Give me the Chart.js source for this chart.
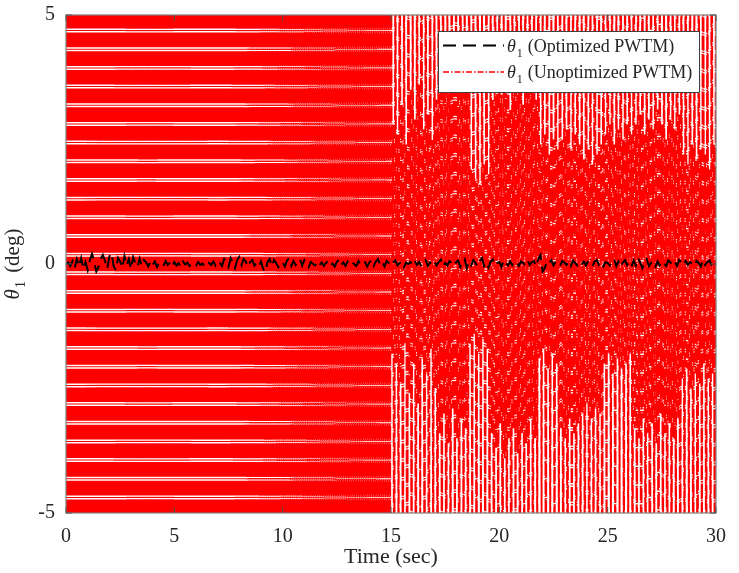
<!DOCTYPE html>
<html><head><meta charset="utf-8">
<script src="https://cdn.jsdelivr.net/npm/chart.js@4"></script>
<style>html,body{margin:0;padding:0;background:#fff}canvas{display:block}</style>
</head><body>
<canvas id="c" width="739" height="573"></canvas>
<script>
// ---- data ----
const optimizedStep = 0.1;     // s between samples of the optimized response
const unoptimizedStep = 0.05;  // s between samples of the unoptimized response
const xTickValues = [0, 5, 10, 15, 20, 25, 30];
const yTickValues = [-5, 0, 5];
const seriesNames = ['(Optimized PWTM)', '(Unoptimized PWTM)'];
const xAxisTitle = 'Time (sec)';
const yAxisUnit = ' (deg)';

// theta_1, optimized PWTM (deg), 0..30 s
const optimizedTheta = [
 0.00,0.03,-0.04,0.06,-0.08,0.10,-0.05,0.12,-0.10,0.04,
 -0.12,0.08,0.20,0.05,-0.15,-0.06,0.10,0.18,0.06,-0.10,
 0.15,0.22,-0.05,-0.12,0.12,0.05,-0.08,0.16,-0.03,0.10,
 -0.10,0.14,0.02,-0.06,0.11,-0.04,0.08,0.03,-0.05,0.06,
 -0.02,0.05,-0.06,0.03,0.00,-0.04,0.06,-0.02,0.03,-0.05,
 0.04,-0.03,0.02,-0.06,0.05,-0.01,0.03,-0.04,0.02,0.00,
 -0.03,0.04,-0.02,0.01,-0.05,0.03,0.02,-0.02,0.05,-0.03,
 0.06,0.02,-0.04,0.10,0.04,-0.06,0.12,0.03,-0.08,0.08,
 0.14,-0.02,0.10,0.05,-0.06,0.04,0.08,-0.03,0.02,-0.05,
 0.05,-0.10,-0.16,0.04,0.10,-0.05,0.08,0.02,-0.06,0.04,
 0.03,-0.05,0.07,0.12,-0.04,0.06,-0.02,0.05,0.10,-0.03,
 0.08,0.02,-0.06,0.04,0.00,-0.03,0.05,-0.02,0.03,-0.04,
 0.02,0.06,-0.03,0.01,-0.05,0.04,0.09,-0.02,0.03,-0.04,
 0.05,-0.02,0.03,0.00,-0.04,0.06,-0.03,0.02,0.04,-0.05,
 0.03,0.08,-0.04,0.05,0.10,-0.02,0.04,-0.05,0.06,0.02,
 -0.04,0.03,0.07,-0.03,0.02,0.05,-0.06,0.03,0.00,0.04,
 -0.03,0.06,-0.02,0.04,-0.05,0.02,0.08,-0.04,0.03,-0.02,
 0.05,-0.03,0.04,0.09,-0.05,0.02,-0.03,0.06,0.01,-0.04,
 0.03,0.07,-0.06,0.04,0.10,-0.08,0.05,-0.03,0.08,0.02,
 -0.05,0.06,0.12,-0.04,0.03,-0.07,0.05,0.09,-0.03,0.02,
 0.04,-0.06,0.08,0.02,-0.03,0.05,-0.02,0.06,0.03,-0.04,
 0.05,0.02,-0.03,0.07,-0.02,0.04,0.06,-0.05,0.10,0.18,
 -0.15,-0.08,0.06,0.02,0.08,-0.03,0.05,0.02,-0.04,0.06,
 0.03,-0.02,0.05,-0.04,0.07,0.02,-0.03,0.04,-0.01,0.05,
 -0.03,0.06,0.02,-0.04,0.05,0.08,-0.02,0.03,-0.05,0.04,
 0.02,-0.03,0.06,0.10,-0.04,0.05,-0.06,0.03,0.08,-0.02,
 0.04,-0.05,0.07,-0.03,0.12,0.03,-0.08,0.06,0.10,-0.04,
 0.02,-0.10,-0.06,0.05,-0.03,0.06,0.02,-0.04,0.07,0.03,
 -0.02,0.05,-0.04,0.08,0.03,-0.03,0.06,-0.02,0.04,0.01,
 -0.04,0.06,0.02,-0.05,0.08,-0.02,0.04,0.07,-0.03,0.05,
 0.00
];

// theta_1, unoptimized PWTM (deg), 0..14.95 s (saturating chatter beyond the +/-5 window)
const unoptimizedEarly = [
 9,-9,9,-9,9,-9,9,-9,9,-9,9,-9,9,-9,9,-9,9,-9,9,-9,
 9,-9,9,-9,9,-9,9,-9,9,-9,9,-9,9,-9,9,-9,9,-9,9,-9,
 9,-9,9,-9,9,-9,9,-9,9,-9,9,-9,9,-9,9,-9,9,-9,9,-9,
 9,-9,9,-9,9,-9,9,-9,9,-9,9,-9,9,-9,9,-9,9,-9,9,-9,
 9,-9,9,-9,9,-9,9,-9,9,-9,9,-9,9,-9,9,-9,9,-9,9,-9,
 9,-9,9,-9,9,-9,9,-9,9,-9,9,-9,9,-9,9,-9,9,-9,9,-9,
 9,-9,9,-9,9,-9,9,-9,9,-9,9,-9,9,-9,9,-9,9,-9,9,-9,
 9,-9,9,-9,9,-9,9,-9,9,-9,9,-9,9,-9,9,-9,9,-9,9,-9,
 9,-9,9,-9,9,-9,9,-9,9,-9,9,-9,9,-9,9,-9,9,-9,9,-9,
 9,-9,9,-9,9,-9,9,-9,9,-9,9,-9,9,-9,9,-9,9,-9,9,-9,
 9,-9,9,-9,9,-9,9,-9,9,-9,9,-9,9,-9,9,-9,9,-9,9,-9,
 9,-9,9,-9,9,-9,9,-9,9,-9,9,-9,9,-9,9,-9,9,-9,9,-9,
 9,-9,9,-9,9,-9,9,-9,9,-9,9,-9,9,-9,9,-9,9,-9,9,-9,
 9,-9,9,-9,9,-9,9,-9,9,-9,9,-9,9,-9,9,-9,9,-9,9,-9,
 9,-9,9,-9,9,-9,9,-9,9,-9,9,-9,9,-9,9,-9,9,-9,9,-9
];

// theta_1, unoptimized PWTM (deg), 15..30 s
const unoptimizedLate = [
 9,-1.8,2.8,-10, 8,-2.0,2.6,-7, 11,-2.4,3.2,-9, 7,-1.6,2.4,-11, 10,-2.6,3.5,-8,
 6,-2.0,2.9,-10, 9,-2.8,3.6,-6, 12,-1.9,2.7,-9, 8,-2.2,3.0,-12, 10,-1.7,2.5,-7,
 7,-2.5,3.3,-10, 11,-3.4,4.0,-8, 9,-3.0,3.6,-11, 6,-3.6,4.3,-9, 10,-2.9,3.5,-7,
 8,-3.5,4.1,-12, 12,-3.1,3.7,-8, 7,-3.3,3.9,-10, 9,-1.6,1.9,-6, 6,-1.4,1.7,-9,
 8,-1.8,1.6,-5.5, 5.5,-1.5,2.0,-8, 10,-1.7,1.8,-7, 7,-3.4,3.3,-11, 11,-3.7,3.8,-8,
 9,-3.2,3.4,-10, 6,-3.9,3.7,-9, 10,-3.5,3.1,-12, 8,-3.3,3.6,-7, 12,-3.8,3.9,-10,
 7,-3.4,3.2,-8, 9,-3.6,3.5,-11, 11,-3.1,3.8,-9, 8,-3.5,3.3,-6, 10,-1.9,2.4,-5,
 6,-1.7,2.6,-9, 9,-2.1,2.2,-5.5, 5.5,-1.8,2.5,-8, 8,-2.0,2.3,-6, 10,-3.3,2.5,-9,
 7,-3.5,2.7,-11, 11,-3.1,2.3,-8, 8,-3.4,2.6,-10, 9,-3.2,2.4,-7, 6,-3.0,2.1,-9,
 10,-2.8,2.3,-12, 8,-3.1,2.0,-8, 12,-2.9,2.2,-10, 7,-3.0,2.4,-9, 9,-2.0,2.6,-6,
 11,-1.8,2.8,-5.5, 8,-2.2,2.4,-8, 6,-1.9,2.7,-5, 10,-2.1,2.5,-7, 7,-2.0,2.8,-6,
 9,-1.8,2.6,-9, 12,-3.3,2.8,-8, 8,-3.5,3.0,-11, 10,-3.1,2.6,-9, 7,-3.4,2.9,-12,
 9,-3.2,2.7,-7, 11,-3.6,3.1,-10, 8,-3.0,2.8,-8, 6,-3.4,2.5,-11, 10,-3.2,2.9,-9,
 9,-3.5,2.7,-7, 12,-3.1,3.0,-10, 7,-2.3,2.2,-8, 10,-2.1,2.0,-6, 8,-2.5,2.4,-9,
 6,-2.2,2.1,-11, 9,-2.4,2.3,-7, 11,-2.0,2.2,-9, 8,-2.3,1.9,-8, 10,-2.2,2.4,-10,
 9
];

// ---- build ----
const toPoints = (vals, dt) => vals.map((v, i) => ({ x: Math.round(i * dt * 10000) / 10000, y: v }));
const optimizedPts = toPoints(optimizedTheta, optimizedStep);
const unoptimizedPts = toPoints(unoptimizedEarly.concat(unoptimizedLate), unoptimizedStep);

const SERIF = '"Liberation Serif", "Times New Roman", "DejaVu Serif", serif';
const TXT = '#262626';
const BLACK_DASH = [13, 7];
const RED_DASH = [14.675, 1.5, 1, 1.5];
const RED_LEGEND_DASH = [6, 2, 1.5, 2];

const overlay = {
  id: 'overlay',
  afterDraw(chart) {
    const ctx = chart.ctx, a = chart.chartArea;
    const xs = chart.scales.x, ys = chart.scales.y;
    ctx.save();
    // axes box
    ctx.strokeStyle = '#7f7f7f';
    ctx.lineWidth = 1.2;
    ctx.setLineDash([]);
    ctx.strokeRect(a.left, a.top, a.right - a.left, a.bottom - a.top);
    // tick marks (inward)
    ctx.strokeStyle = '#555';
    ctx.lineWidth = 1;
    ctx.beginPath();
    xTickValues.forEach(v => {
      const px = xs.getPixelForValue(v);
      ctx.moveTo(px, a.bottom); ctx.lineTo(px, a.bottom - 6);
      ctx.moveTo(px, a.top); ctx.lineTo(px, a.top + 6);
    });
    yTickValues.forEach(v => {
      const py = ys.getPixelForValue(v);
      ctx.moveTo(a.left, py); ctx.lineTo(a.left + 6, py);
      ctx.moveTo(a.right, py); ctx.lineTo(a.right - 6, py);
    });
    ctx.stroke();

    // legend
    const lx = 438, ly = 31, lw = 261, lh = 61;
    ctx.fillStyle = '#fff';
    ctx.fillRect(lx, ly, lw, lh);
    ctx.strokeStyle = '#404040';
    ctx.lineWidth = 1;
    ctx.strokeRect(lx + 0.5, ly + 0.5, lw, lh);
    const rows = [
      { y: 45.5, color: '#000', dash: BLACK_DASH, w: 2, name: seriesNames[0] },
      { y: 72, color: '#ff0000', dash: RED_LEGEND_DASH, w: 1.5, name: seriesNames[1] }
    ];
    rows.forEach(r => {
      ctx.strokeStyle = r.color;
      ctx.lineWidth = r.w;
      ctx.setLineDash(r.dash);
      ctx.lineDashOffset = 0;
      ctx.beginPath();
      ctx.moveTo(443, r.y); ctx.lineTo(504, r.y);
      ctx.stroke();
      ctx.setLineDash([]);
      let x = 507;
      const base = r.y + 6;
      ctx.fillStyle = TXT;
      ctx.textBaseline = 'alphabetic';
      ctx.textAlign = 'left';
      ctx.font = 'italic 18px ' + SERIF;
      ctx.fillText('\u03B8', x, base);
      x += ctx.measureText('\u03B8').width + 1;
      ctx.font = '12px ' + SERIF;
      ctx.fillText('1', x, base + 5);
      x += ctx.measureText('1').width + 5;
      ctx.font = '18px ' + SERIF;
      ctx.fillText(r.name, x, base);
    });

    // x title
    ctx.fillStyle = TXT;
    ctx.font = '22px ' + SERIF;
    ctx.textAlign = 'center';
    ctx.textBaseline = 'alphabetic';
    ctx.fillText(xAxisTitle, (a.left + a.right) / 2, 563);

    // y title (rotated)
    ctx.save();
    ctx.translate(19, (a.top + a.bottom) / 2);
    ctx.rotate(-Math.PI / 2);
    ctx.textAlign = 'left';
    ctx.font = 'italic 21px ' + SERIF;
    const wT = ctx.measureText('\u03B8').width;
    ctx.font = '14px ' + SERIF;
    const w1 = ctx.measureText('1').width;
    ctx.font = '21px ' + SERIF;
    const wU = ctx.measureText(yAxisUnit).width;
    const total = wT + 1 + w1 + 3 + wU;
    let x = -total / 2;
    ctx.font = 'italic 21px ' + SERIF;
    ctx.fillText('\u03B8', x, 0);
    x += wT + 1;
    ctx.font = '14px ' + SERIF;
    ctx.fillText('1', x, 6);
    x += w1 + 3;
    ctx.font = '21px ' + SERIF;
    ctx.fillText(yAxisUnit, x, 0);
    ctx.restore();

    ctx.restore();
  }
};

new Chart(document.getElementById('c'), {
  type: 'line',
  data: {
    datasets: [
      { label: seriesNames[0], data: optimizedPts, borderColor: '#000000', borderWidth: 2,
        borderDash: BLACK_DASH, pointRadius: 0, fill: false, tension: 0 },
      { label: seriesNames[1], data: unoptimizedPts, borderColor: '#ff0000', borderWidth: 1.9,
        borderDash: RED_DASH, borderDashOffset: 7.3375, pointRadius: 0, fill: false, tension: 0 }
    ]
  },
  options: {
    responsive: false,
    animation: false,
    devicePixelRatio: 1,
    layout: { padding: { top: 15, right: 23, left: 0, bottom: 0 } },
    plugins: { legend: { display: false }, tooltip: { enabled: false } },
    scales: {
      x: {
        type: 'linear', min: 0, max: 30,
        afterBuildTicks: s => { s.ticks = xTickValues.map(v => ({ value: v })); },
        afterFit: s => { s.height = 60; s.paddingLeft = 0; s.paddingRight = 0; },
        ticks: { font: { family: SERIF, size: 20 }, color: TXT, padding: 12, maxRotation: 0, autoSkip: false },
        grid: { display: false, drawTicks: false },
        border: { display: false }
      },
      y: {
        type: 'linear', min: -5, max: 5,
        afterBuildTicks: s => { s.ticks = yTickValues.map(v => ({ value: v })); },
        afterFit: s => { s.width = 66; s.paddingTop = 0; s.paddingBottom = 0; },
        ticks: { font: { family: SERIF, size: 20 }, color: TXT, padding: 11, autoSkip: false },
        grid: { display: false, drawTicks: false },
        border: { display: false }
      }
    }
  },
  plugins: [overlay]
});
</script>
</body></html>
